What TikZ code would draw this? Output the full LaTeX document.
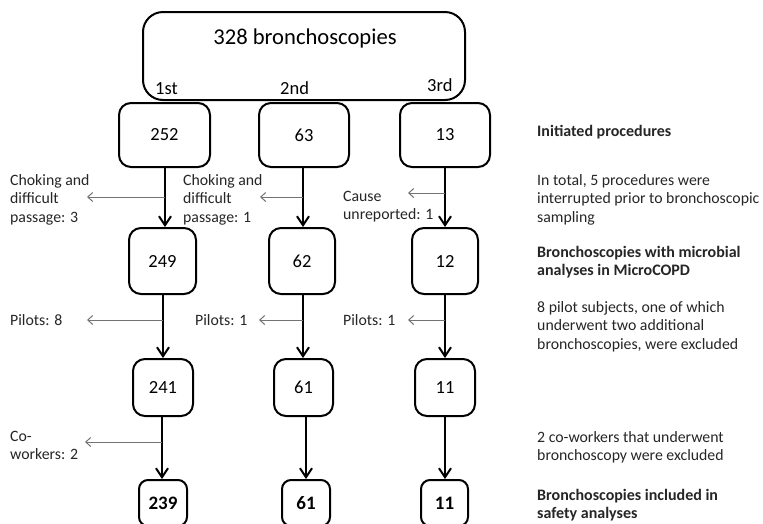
\documentclass[tikz,border=0pt]{standalone}
\usepackage{fontspec}
\setmainfont{Carlito}
\usetikzlibrary{arrows.meta}
\newcommand{\mlines}[1]{\begin{tabular}[t]{@{}l@{}}#1\end{tabular}}
\begin{document}
\begin{tikzpicture}[x=1pt,y=-1pt,
  box/.style={draw=black,line width=2pt,rounded corners=12pt,inner sep=0pt,font=\fontsize{18.5}{22}\selectfont},
  fbox/.style={box,rounded corners=9pt,font=\fontsize{19}{22}\selectfont\bfseries},
  main/.style={line width=2pt,-{Straight Barb[length=9pt,width=12pt]}},
  side/.style={draw=black!55,line width=1pt,-{Straight Barb[length=5pt,width=9pt]}},
  lab/.style={anchor=base west,inner sep=0pt,font=\fontsize{15.8}{18.8}\selectfont,text=black!85},
  blab/.style={lab,font=\fontsize{16}{18.8}\selectfont\bfseries}]
\useasboundingbox (0,0) rectangle (763,523);
\clip (0,0) rectangle (763,523);
\fill[white] (0,0) rectangle (763,523);
% top box
\node[box,rounded corners=20pt,minimum width=322pt,minimum height=88pt] (top) at (304,56) {};
\node[anchor=base,inner sep=0pt,font=\fontsize{22.6}{26}\selectfont] (title) at (305,44) {328 bronchoscopies};
\node[anchor=base west,inner sep=0pt,font=\fontsize{18.5}{22}\selectfont] (n1) at (155,94) {1st};
\node[anchor=base west,inner sep=0pt,font=\fontsize{18.5}{22}\selectfont] (n2) at (280,94) {2nd};
\node[anchor=base west,inner sep=0pt,font=\fontsize{18.5}{22}\selectfont] (n3) at (427,91) {3rd};
% row 1
\node[box,minimum width=91pt,minimum height=64pt] (a1) at (164.5,135) {252};
\node[box,minimum width=90pt,minimum height=64pt] (a2) at (304,135) {63};
\node[box,minimum width=90pt,minimum height=64pt] (a3) at (445,135) {13};
% row 2
\node[box,minimum width=67pt,minimum height=66pt] (b1) at (162.5,261) {249};
\node[box,minimum width=66pt,minimum height=66pt] (b2) at (302,261) {62};
\node[box,minimum width=66pt,minimum height=66pt] (b3) at (445,261) {12};
% row 3
\node[box,minimum width=60pt,minimum height=57pt] (c1) at (163,387.5) {241};
\node[box,minimum width=59pt,minimum height=57pt] (c2) at (303.5,387.5) {61};
\node[box,minimum width=60pt,minimum height=57pt] (c3) at (445,387.5) {11};
% row 4
\node[fbox,minimum width=48pt,minimum height=46pt] (d1) at (163,503) {239};
\node[fbox,minimum width=48pt,minimum height=46pt] (d2) at (306,503) {61};
\node[fbox,minimum width=47pt,minimum height=46pt] (d3) at (444.5,503) {11};
% main arrows
\coordinate (x1) at (165,0); \coordinate (x2) at (303,0); \coordinate (x3) at (445,0);
\coordinate (y1) at (163,0); \coordinate (y2) at (303,0); \coordinate (y3) at (445,0);
\coordinate (z1) at (162,0); \coordinate (z2) at (306,0); \coordinate (z3) at (445,0);
\draw[main] (x1 |- a1.south) -- (x1 |- b1.north);
\draw[main] (x2 |- a2.south) -- (x2 |- b2.north);
\draw[main] (x3 |- a3.south) -- (x3 |- b3.north);
\draw[main] (y1 |- b1.south) -- (y1 |- c1.north);
\draw[main] (y2 |- b2.south) -- (y2 |- c2.north);
\draw[main] (y3 |- b3.south) -- (y3 |- c3.north);
\draw[main] (z1 |- c1.south) -- (z1 |- d1.north);
\draw[main] (z2 |- c2.south) -- (z2 |- d2.north);
\draw[main] (z3 |- c3.south) -- (z3 |- d3.north);
% side arrows
\coordinate (s11) at (165,197); \coordinate (t11) at (87,197);
\coordinate (s12) at (303,197); \coordinate (t12) at (260,197);
\coordinate (s13) at (445,193); \coordinate (t13) at (408,193);
\coordinate (s21) at (163,320); \coordinate (t21) at (87,320);
\coordinate (s22) at (303,320); \coordinate (t22) at (259,320);
\coordinate (s23) at (445,320); \coordinate (t23) at (408,320);
\coordinate (s31) at (162,442); \coordinate (t31) at (85,442);
\foreach \p in {11,12,13,21,22,23,31} {\draw[side] (s\p) -- (t\p);}
% side labels
\node[lab] (l11) at (10,185) {\mlines{Choking and\\difficult\\passage: 3}};
\node[lab] (l12) at (183,185) {\mlines{Choking and\\difficult\\passage: 1}};
\node[lab] (l13) at (343,201) {\mlines{Cause\\unreported: 1}};
\node[lab] (l21) at (10,325) {Pilots: 8};
\node[lab] (l22) at (195,325) {Pilots: 1};
\node[lab] (l23) at (343,325) {Pilots: 1};
\node[lab] (l31) at (10,441) {\mlines{Co-\\workers: 2}};
% right column
\node[blab] (r1) at (537,136) {Initiated procedures};
\node[lab] (r2) at (537,185) {\mlines{In total, 5 procedures were\\interrupted prior to bronchoscopic\\sampling}};
\node[blab] (r3) at (537,257) {\mlines{Bronchoscopies with microbial\\analyses in MicroCOPD}};
\node[lab] (r4) at (537,312) {\mlines{8 pilot subjects, one of which\\underwent two additional\\bronchoscopies, were excluded}};
\node[lab] (r5) at (537,442) {\mlines{2 co-workers that underwent\\bronchoscopy were excluded}};
\node[blab] (r6) at (537,500) {\mlines{Bronchoscopies included in\\safety analyses}};
\end{tikzpicture}
\end{document}
